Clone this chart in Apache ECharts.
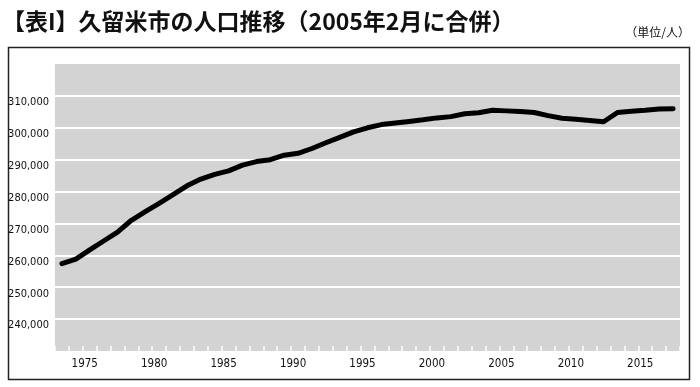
<!DOCTYPE html>
<html>
<head>
<meta charset="utf-8">
<script src="https://cdn.jsdelivr.net/npm/echarts@6/dist/echarts.min.js"></script>
<style>
html,body{margin:0;padding:0;background:#fff;}
#c{width:700px;height:387px;}
</style>
</head>
<body>
<div id="c"></div>
<script>
const titleText = '【表I】久留米市の人口推移（2005年2月に合併）';
const unitText = '（単位/人）';
const years = ['1973','1974','1975','1976','1977','1978','1979','1980','1981','1982',
  '1983','1984','1985','1986','1987','1988','1989','1990','1991','1992',
  '1993','1994','1995','1996','1997','1998','1999','2000','2001','2002',
  '2003','2004','2005','2006','2007','2008','2009','2010','2011','2012',
  '2013','2014','2015','2016','2017'];
const population = [257400,258800,261700,264500,267300,271000,273700,276300,279000,281800,
  283900,285400,286500,288300,289400,290000,291400,292000,293500,295300,
  297000,298700,300000,301000,301500,302000,302500,303100,303500,304400,
  304700,305500,305300,305100,304800,303800,303000,302700,302300,301900,
  304800,305200,305500,305900,306000];
const yTicks = {min:230000, max:320000, interval:10000};
const labelYears = ['1975','1980','1985','1990','1995','2000','2005','2010','2015'];

const chart = echarts.init(document.getElementById('c'), null, {renderer:'canvas'});
const numFont = '"Liberation Sans Narrow","DejaVu Sans Condensed","Liberation Sans",sans-serif';
chart.setOption({
  animation:false,
  backgroundColor:'#fff',
  title:[{
    text:titleText, left:2, top:10, padding:0,
    textStyle:{fontFamily:'"Noto Sans CJK JP"', fontSize:23, fontWeight:'bold', color:'#111'}
  },{
    text:unitText, right:10, top:26, padding:0,
    textStyle:{fontFamily:'"Noto Sans CJK JP"', fontSize:12, fontWeight:'normal', color:'#111'}
  }],
  graphic:[{
    type:'rect', silent:true, z:-1,
    shape:{x:8.5, y:47.5, width:681, height:332},
    style:{fill:null, stroke:'#222', lineWidth:1.5}
  }],
  grid:{left:55, right:20, top:64, bottom:36, show:true, backgroundColor:'#d3d3d3', borderWidth:0},
  xAxis:{
    type:'category', data:years, boundaryGap:true,
    axisLine:{show:false},
    axisTick:{show:true, inside:true, length:5, interval:0, lineStyle:{color:'#fff', width:1.5}},
    axisLabel:{
      interval:(i,v)=>labelYears.indexOf(v)>=0,
      margin:7, fontFamily:numFont, fontSize:12, color:'#111',
      formatter:v=>'{a|'+v+'}',
      rich:{a:{fontFamily:numFont, fontSize:11.5, color:'#111', padding:[0,10,0,0]}}
    },
    splitLine:{show:false}
  },
  yAxis:{
    type:'value', min:yTicks.min, max:yTicks.max, interval:yTicks.interval,
    axisLine:{show:false}, axisTick:{show:false},
    axisLabel:{
      margin:6, fontFamily:numFont, fontSize:11, color:'#111',
      verticalAlign:'top', padding:[1,0,0,0],
      formatter:v=>(v===yTicks.min||v===yTicks.max)?'':v.toLocaleString('en-US')
    },
    splitLine:{show:true, showMinLine:false, showMaxLine:false, lineStyle:{color:'#fff', width:2}}
  },
  series:[{
    type:'line', data:population, showSymbol:false, symbol:'none',
    lineStyle:{color:'#000', width:5, cap:'round', join:'round'}
  }]
});
</script>
</body>
</html>
